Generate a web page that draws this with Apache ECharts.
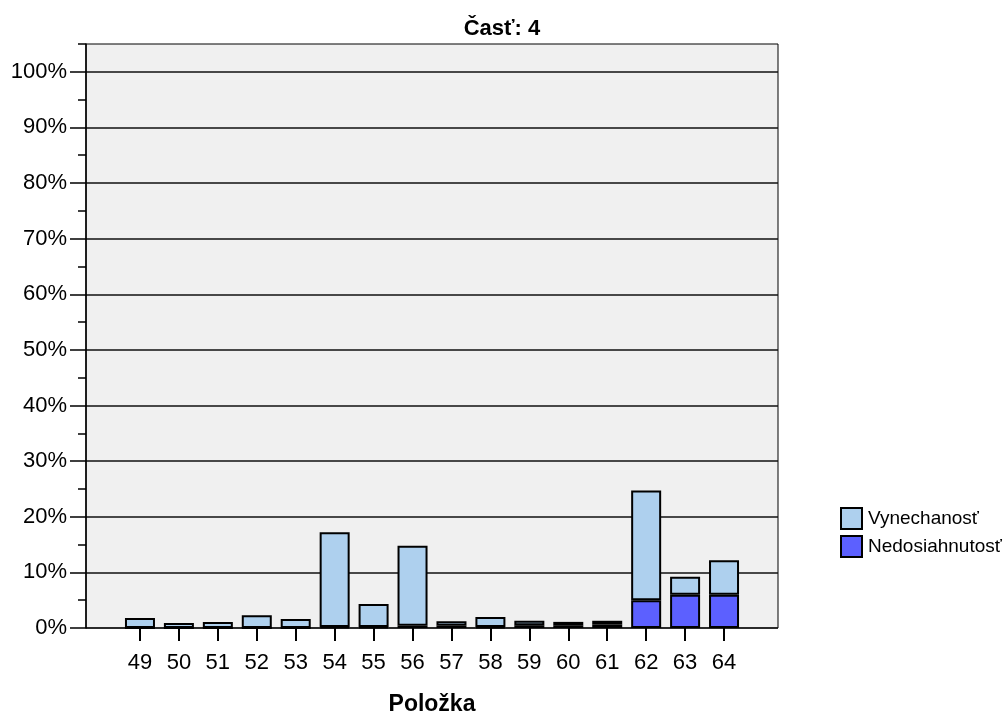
<!DOCTYPE html>
<html>
<head>
<meta charset="utf-8">
<script src="https://cdn.jsdelivr.net/npm/echarts@6/dist/echarts.min.js"></script>
<style>html,body{margin:0;padding:0;background:#fff;}#c{width:1004px;height:713px;}</style>
</head>
<body>
<div id="c"></div>
<script>
var categories = ['49','50','51','52','53','54','55','56','57','58','59','60','61','62','63','64'];
var vynechanost = [1.8,0.9,1.1,2.3,1.6,17.0,4.1,14.4,0.8,1.8,0.8,0.6,0.7,19.7,3.2,6.2];
var nedosiahnutost = [0,0,0,0,0,0.2,0.2,0.4,0.4,0.2,0.5,0.5,0.6,5.0,6.0,6.0];
var yTicks = [0,10,20,30,40,50,60,70,80,90,100];
var titleText = 'Časť: 4';
var xName = 'Položka';
var seriesNames = ['Vynechanosť','Nedosiahnutosť'];

var FONT = 'Liberation Sans, Arial, sans-serif';
var chart = echarts.init(document.getElementById('c'), null, {renderer:'canvas'});
var gTop = 44, gH = 584, yMax = 105;
chart.setOption({
  animation: false,
  backgroundColor: '#fff',
  title: {
    text: titleText, left: 'center', top: 13,
    textStyle: {fontFamily: FONT, fontSize: 22, fontWeight: 'bold', color: '#000'}
  },
  legend: {
    orient: 'vertical', left: 840, top: 507, itemGap: 5,
    itemWidth: 21, itemHeight: 21, icon: 'rect', padding: 0,
    data: [seriesNames[0], seriesNames[1]],
    textStyle: {fontFamily: FONT, fontSize: 19, color: '#000', padding: [0,0,0,1]},
    itemStyle: {borderColor: '#000', borderWidth: 2}
  },
  grid: [
    {left: 86, top: gTop, width: 692, height: gH, show: true, backgroundColor: '#f0f0f0', borderColor: '#000', borderWidth: 1, containLabel: false, outerBoundsMode: 'none'},
    {left: 120.5, top: gTop, width: 623, height: gH, show: false, containLabel: false, outerBoundsMode: 'none'}
  ],
  xAxis: [
    {type: 'value', gridIndex: 0, min: 0, max: 1, show: false},
    {type: 'category', gridIndex: 1, data: categories,
     axisLine: {show: false},
     axisTick: {show: true, alignWithLabel: true, length: 13, lineStyle: {color: '#000', width: 2}},
     axisLabel: {margin: 24, fontFamily: FONT, fontSize: 22, color: '#000'},
     name: xName, nameLocation: 'middle', nameGap: 65,
     nameTextStyle: {fontFamily: FONT, fontSize: 23, fontWeight: 'bold', color: '#000'}
    }
  ],
  yAxis: [
    {type: 'value', gridIndex: 0, min: 0, max: yMax, interval: 5,
     axisLine: {show: true, lineStyle: {color: '#000', width: 1.5}},
     axisTick: {show: true, length: 8, lineStyle: {color: '#000', width: 1.5}},
     axisLabel: {show: false},
     splitLine: {show: true, lineStyle: {color: ['#111', 'rgba(0,0,0,0)'], width: 1.5}}
    },
    {type: 'value', gridIndex: 0, min: 0, max: yMax, interval: 10, position: 'left',
     axisLine: {show: false},
     axisTick: {show: true, length: 16, lineStyle: {color: '#000', width: 1.5}, customValues: yTicks},
     axisLabel: {show: true, margin: 19, fontFamily: FONT, fontSize: 22, color: '#000', customValues: yTicks,
       formatter: function(v){ return v + '%'; }},
     splitLine: {show: false}
    },
    {type: 'value', gridIndex: 1, min: 0, max: yMax, show: false}
  ],
  series: [
    {name: seriesNames[1], type: 'bar', xAxisIndex: 1, yAxisIndex: 2, stack: 'a', barWidth: 30,
     data: nedosiahnutost,
     itemStyle: {color: '#5c60ff', borderColor: '#000', borderWidth: 2}},
    {name: seriesNames[0], type: 'bar', xAxisIndex: 1, yAxisIndex: 2, stack: 'a', barWidth: 30,
     data: vynechanost,
     itemStyle: {color: '#aed0ee', borderColor: '#000', borderWidth: 2}}
  ]
});
</script>
</body>
</html>
